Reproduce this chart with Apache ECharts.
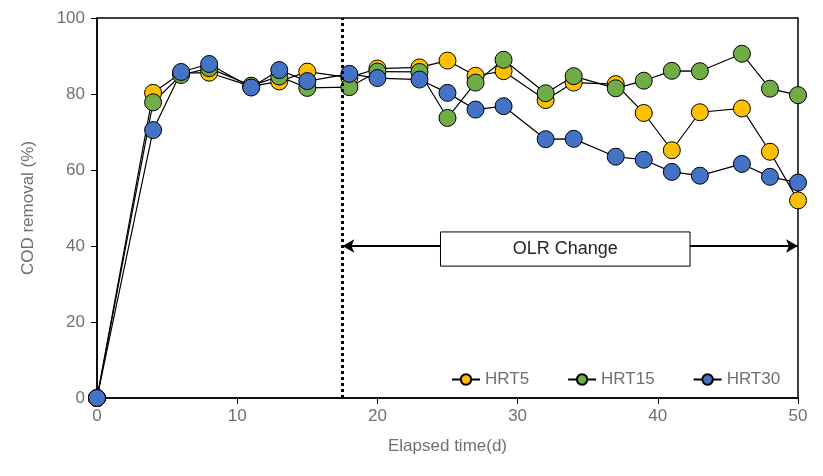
<!DOCTYPE html>
<html><head><meta charset="utf-8">
<script src="https://cdn.jsdelivr.net/npm/echarts@6/dist/echarts.min.js"></script>
<style>html,body{margin:0;padding:0;background:#fff}#c{width:823px;height:476px}</style>
</head><body><div id="c"></div>
<script>
const days   = [0, 4, 6, 8, 11, 13, 15, 18, 20, 23, 25, 27, 29, 32, 34, 37, 39, 41, 43, 46, 48, 50];
const hrt5   = [0, 80.3, 85.5, 85.6, 82, 83.3, 85.9, 84.3, 86.7, 87, 88.8, 84.8, 86, 78.4, 83, 82.6, 75, 65.2, 75.2, 76.2, 64.8, 52];
const hrt15  = [0, 77.8, 85, 86.8, 82.2, 84.6, 81.6, 81.8, 85.9, 85.8, 73.7, 83, 89, 80.2, 84.7, 81.5, 83.5, 86.1, 86, 90.6, 81.4, 79.7];
const hrt30  = [0, 70.5, 85.8, 87.9, 81.7, 86.3, 83.4, 85.3, 84.2, 83.8, 80.3, 75.9, 76.8, 68.1, 68.2, 63.5, 62.7, 59.5, 58.5, 61.6, 58.2, 56.7];
const seriesNames = ['HRT5', 'HRT15', 'HRT30'];
const xTicks = [0, 10, 20, 30, 40, 50];
const yTicks = [0, 20, 40, 60, 80, 100];
const olrStart = 17.5, olrEnd = 50, olrLevel = 40;
const olrLabel = 'OLR Change';

const colors = ['#FFC000', '#70AD47', '#4472C4'];
const font = 'Liberation Sans, Arial, sans-serif';
const txt = '#707070';
const chart = echarts.init(document.getElementById('c'));
const mk = (name, vals, color) => ({
  name, type: 'line', data: days.map((d, i) => [d, vals[i]]),
  symbol: 'circle', symbolSize: 17, showSymbol: true,
  lineStyle: { color: '#000', width: 1.2 },
  itemStyle: { color, borderColor: '#000', borderWidth: 1 },
  emphasis: { disabled: true }, z: 3
});
chart.setOption({
  animation: false,
  grid: { left: 97, right: 25, top: 18, bottom: 78, show: true, borderColor: '#000', borderWidth: 1.5 },
  legend: {
    left: 446, top: 366, itemWidth: 28, itemHeight: 13, itemGap: 38,
    textStyle: { color: txt, fontSize: 17, fontFamily: font },
    data: seriesNames
  },
  xAxis: {
    type: 'value', min: xTicks[0], max: xTicks[xTicks.length - 1], interval: 10,
    name: 'Elapsed time(d)', nameLocation: 'middle', nameGap: 40,
    nameTextStyle: { color: txt, fontSize: 17, fontFamily: font },
    axisLine: { lineStyle: { color: '#000', width: 1.5 } },
    axisTick: { show: true, length: 6, lineStyle: { color: '#000' } },
    axisLabel: { color: txt, fontSize: 17, fontFamily: font, margin: 10 },
    splitLine: { show: false }
  },
  yAxis: {
    type: 'value', min: yTicks[0], max: yTicks[yTicks.length - 1], interval: 20,
    name: 'COD removal (%)', nameLocation: 'middle', nameGap: 60,
    nameTextStyle: { color: txt, fontSize: 17, fontFamily: font },
    axisLine: { show: true, lineStyle: { color: '#000', width: 1.5 } },
    axisTick: { show: true, length: 6, lineStyle: { color: '#000' } },
    axisLabel: { color: txt, fontSize: 17, fontFamily: font, margin: 12 },
    splitLine: { show: false }
  },
  series: [
    {
      type: 'line', data: [], silent: true, z: 2,
      markLine: {
        silent: true, animation: false,
        label: { show: false },
        data: [
          [{ coord: [olrStart, 0], symbol: 'none', lineStyle: { type: [3, 3], width: 3, color: '#000' } },
           { coord: [olrStart, 100], symbol: 'none' }],
          [{ coord: [olrStart, olrLevel], symbol: 'arrow', symbolSize: [10, 12], lineStyle: { type: 'solid', width: 2, color: '#000' } },
           { coord: [24.5, olrLevel], symbol: 'none' }],
          [{ coord: [42.3, olrLevel], symbol: 'none', lineStyle: { type: 'solid', width: 2, color: '#000' } },
           { coord: [olrEnd, olrLevel], symbol: 'arrow', symbolSize: [10, 12] }]
        ]
      },
      markArea: {
        silent: true,
        itemStyle: { color: '#fff', opacity: 1, borderColor: '#000', borderWidth: 1 },
        label: { show: true, position: 'inside', color: '#262626', fontSize: 18, fontFamily: font },
        data: [[{ name: olrLabel, coord: [24.5, 43.7] }, { coord: [42.3, 34.7] }]]
      }
    },
    mk(seriesNames[0], hrt5, colors[0]),
    mk(seriesNames[1], hrt15, colors[1]),
    mk(seriesNames[2], hrt30, colors[2])
  ]
});
</script></body></html>
